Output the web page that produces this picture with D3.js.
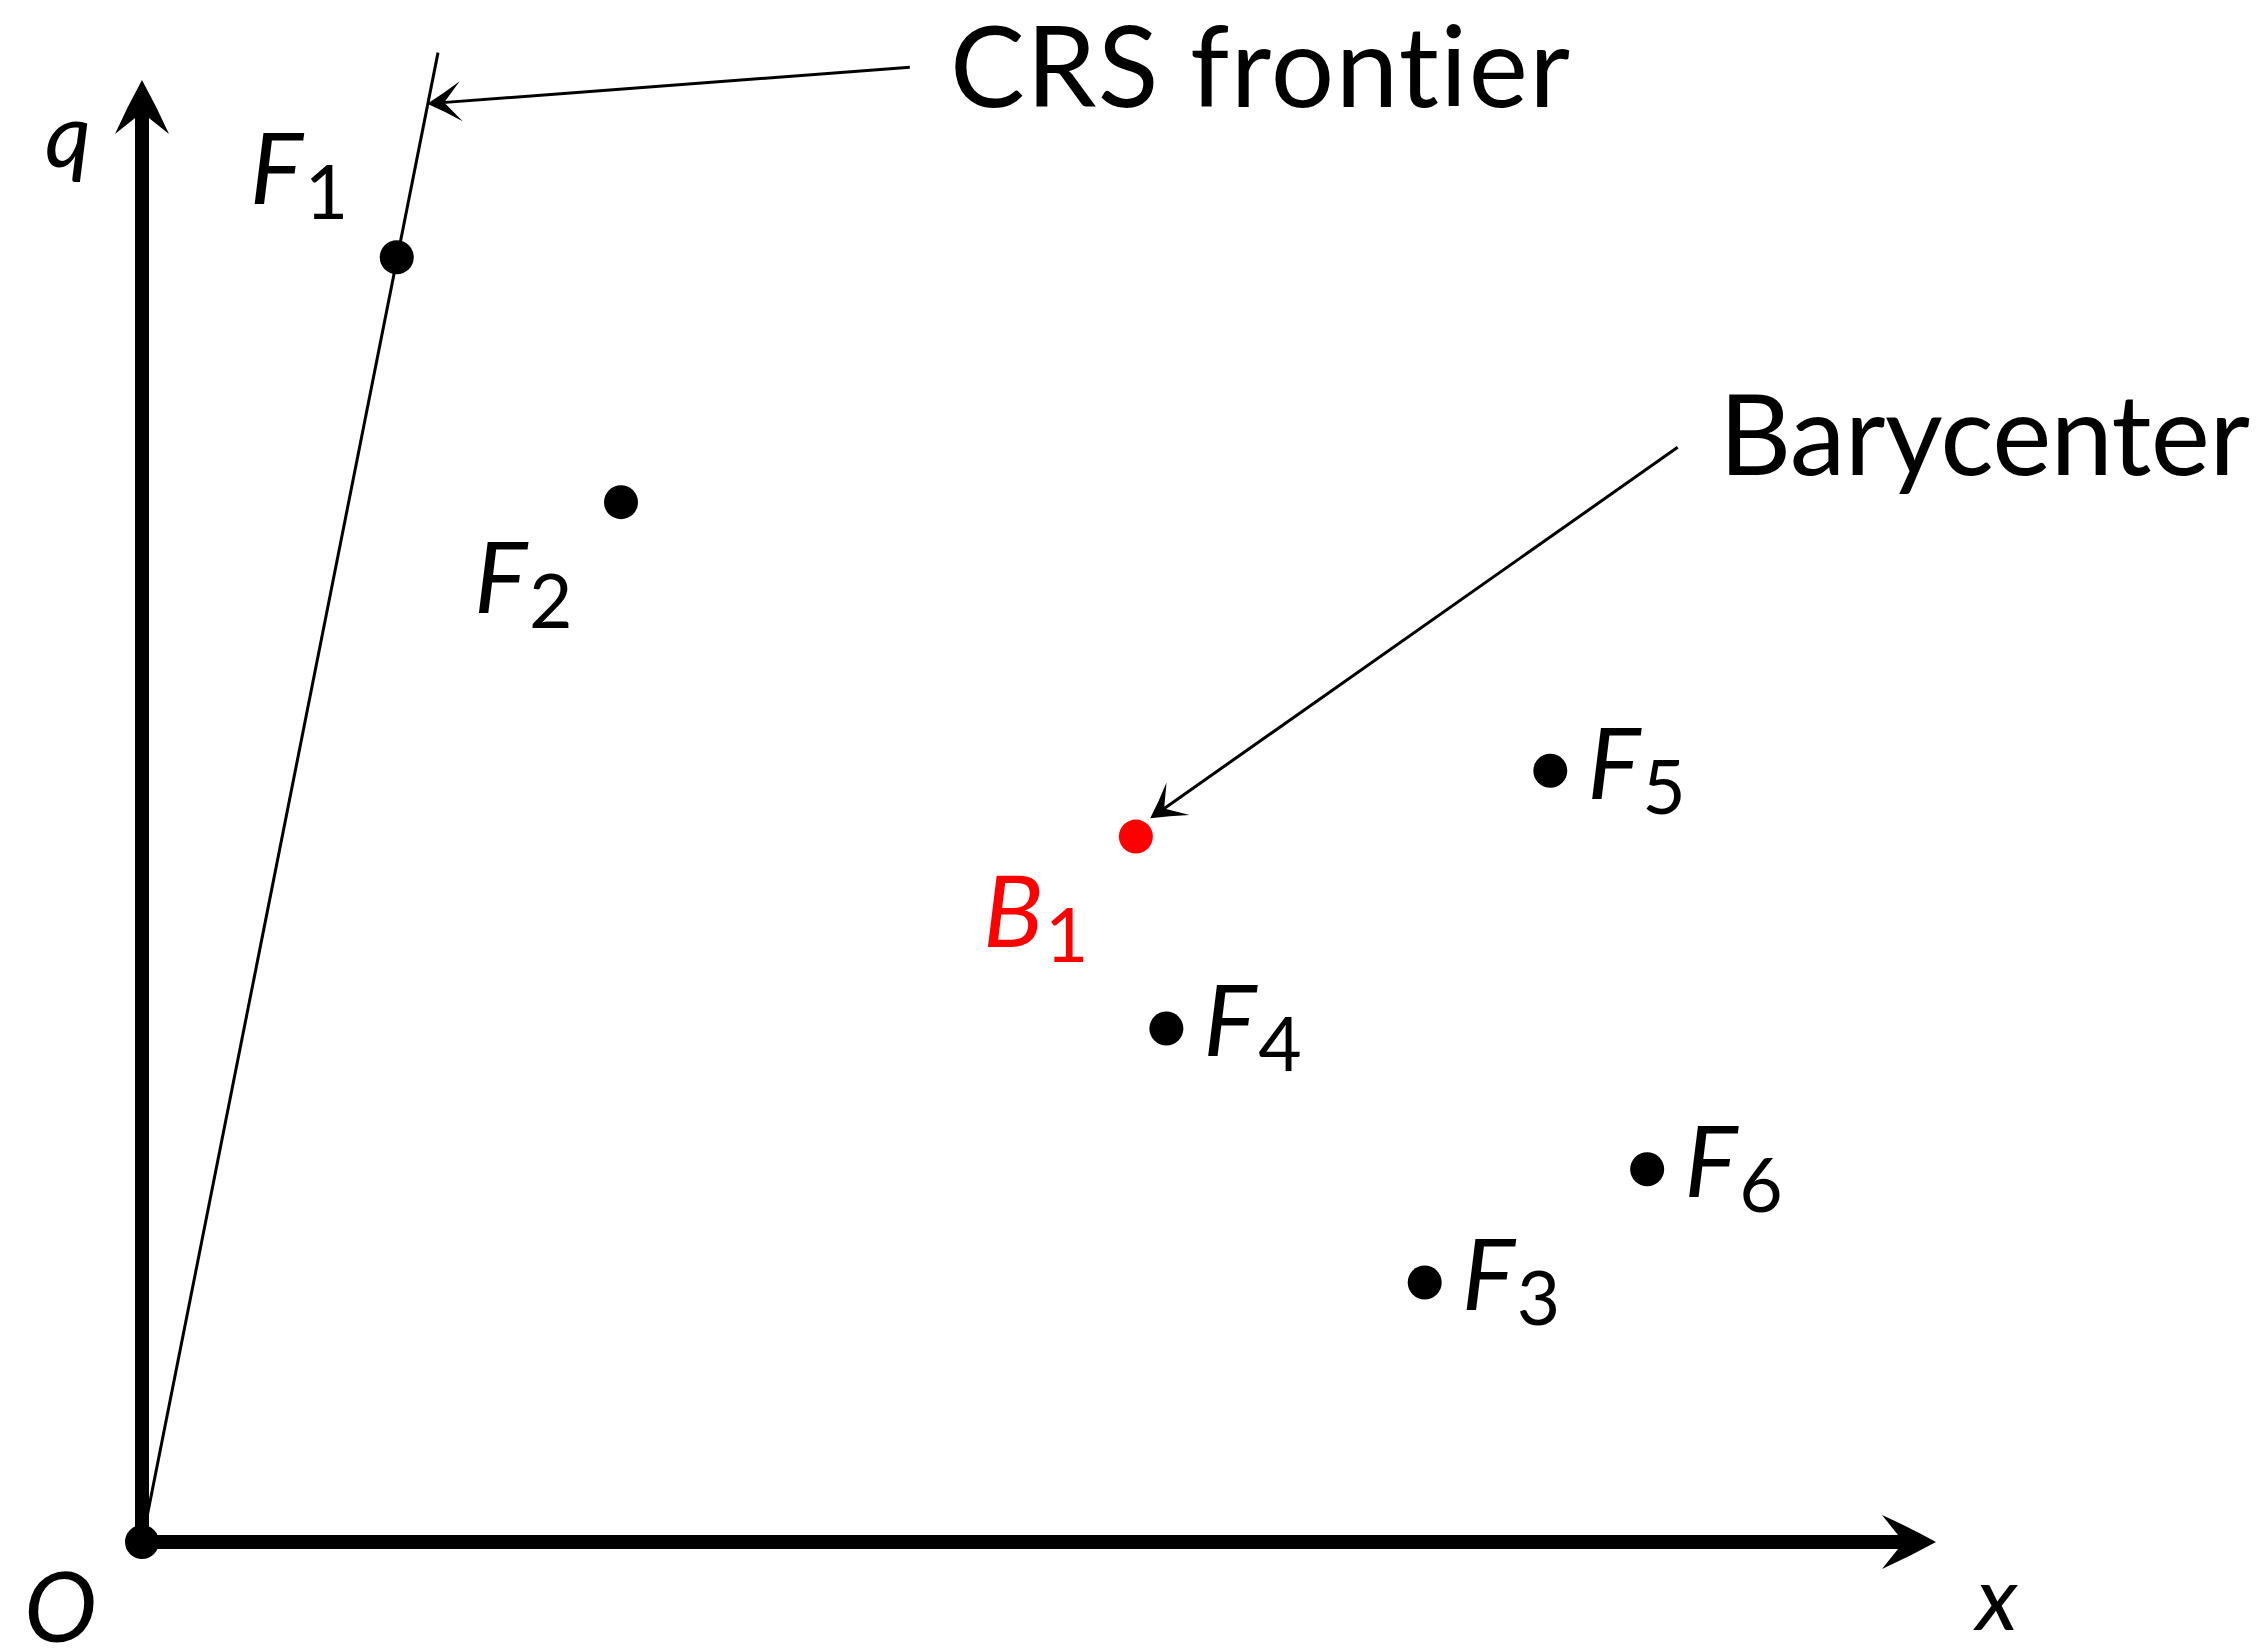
<!DOCTYPE html>
<html>
<head>
<meta charset="utf-8">
<script src="https://cdnjs.cloudflare.com/ajax/libs/d3/7.8.5/d3.min.js"></script>
<style>
  html, body { margin: 0; padding: 0; background: #fff; }
  svg { display: block; }
  text { font-family: "Lato", "Liberation Sans", sans-serif; font-variant-ligatures: none; font-feature-settings: "liga" 0, "clig" 0; }
</style>
</head>
<body>
<svg id="chart" width="2265" height="1651"></svg>
<script>
// firms (F_i), axis units x: 0..10, q: 0..8
const firmIds = ["1", "2", "3", "4", "5", "6"];
const firmX = [1.42, 2.67, 7.15, 5.71, 7.85, 8.39];
const firmQ = [7.03, 5.69, 1.42, 2.81, 4.22, 2.04];
const firmSide = ["aboveLeft", "belowLeft", "right", "right", "right", "right"];

// barycenter
const baryIds = ["1"];
const baryX = [5.54];
const baryQ = [3.86];

// CRS frontier ray, from the origin through F1
const frontierX = [0, 1.65];
const frontierQ = [0, 8.15];

// annotations: text, arrow start, arrow tip
const noteText = ["CRS frontier", "Barycenter"];
const noteFrom = [[4.28, 8.07], [8.56, 5.99]];
const noteTo = [[1.59, 7.87], [5.62, 3.96]];

var svg = d3.select("#chart"),
	width = 2265,
	height = 1651;

var x = d3.scaleLinear().domain([0, 10]).range([142, 1936]);
var y = d3.scaleLinear().domain([0, 8]).range([1542, 80]);

var g = svg.append("g");

// filled arrow head with concave sides
function arrowHead(tip, from, len, half, notch, curve){
	var dx = tip[0] - from[0], dy = tip[1] - from[1];
	var L = Math.hypot(dx, dy), ux = dx / L, uy = dy / L;
	var px = -uy, py = ux;
	var bx = tip[0] - ux * len, by = tip[1] - uy * len;
	var b1 = [bx + px * half, by + py * half];
	var b2 = [bx - px * half, by - py * half];
	var n = [tip[0] - ux * len * notch, tip[1] - uy * len * notch];
	var c1 = [tip[0] - ux * len * 0.5 + px * half * curve, tip[1] - uy * len * 0.5 + py * half * curve];
	var c2 = [tip[0] - ux * len * 0.5 - px * half * curve, tip[1] - uy * len * 0.5 - py * half * curve];
	var p = d3.path();
	p.moveTo(tip[0], tip[1]);
	p.quadraticCurveTo(c1[0], c1[1], b1[0], b1[1]);
	p.lineTo(n[0], n[1]);
	p.lineTo(b2[0], b2[1]);
	p.quadraticCurveTo(c2[0], c2[1], tip[0], tip[1]);
	p.closePath();
	return p.toString();
}

//----------------------------- axes -----------------------------
var o = [x(0), y(0)];
var xTip = [x(10), y(0)];
var qTip = [x(0), y(8)];

g.append("line")
	.attr("x1", o[0]).attr("y1", o[1])
	.attr("x2", xTip[0] - 30).attr("y2", xTip[1])
	.attr("stroke", "#000").attr("stroke-width", 14);
g.append("line")
	.attr("x1", o[0]).attr("y1", o[1] + 7)
	.attr("x2", qTip[0]).attr("y2", qTip[1] + 30)
	.attr("stroke", "#000").attr("stroke-width", 14);

g.append("path").attr("d", arrowHead(xTip, o, 54, 27, 0.6, 0.55)).attr("fill", "#000");
g.append("path").attr("d", arrowHead(qTip, o, 54, 27, 0.6, 0.55)).attr("fill", "#000");

// CRS frontier
var frontier = d3.line()
	.x(function(d, i){ return x(frontierX[i]); })
	.y(function(d, i){ return y(frontierQ[i]); });
g.append("path")
	.datum(frontierX)
	.attr("d", frontier)
	.attr("fill", "none")
	.attr("stroke", "#000")
	.attr("stroke-width", 3);

// origin dot
g.append("circle").attr("cx", o[0]).attr("cy", o[1]).attr("r", 17).attr("fill", "#000");

// axis labels
g.append("text").attr("x", qTip[0] - 97).attr("y", qTip[1] + 87)
	.attr("font-size", 90).attr("font-style", "italic").text("q");
g.append("text").attr("x", o[0] - 118).attr("y", o[1] + 100)
	.attr("font-size", 98).attr("font-style", "italic").text("O");
g.append("text").attr("x", xTip[0] + 40).attr("y", xTip[1] + 88)
	.attr("font-size", 90).attr("font-style", "italic").text("x");

//----------------------------- points -----------------------------
var offsets = {
	right: [37, 28],
	aboveLeft: [-147, -53],
	belowLeft: [-147, 111]
};

function subLabel(sel, name, id, px, py, color){
	var t = sel.append("text")
		.attr("x", px).attr("y", py)
		.attr("fill", color)
		.attr("font-size", 100);
	t.append("tspan").attr("font-style", "italic").text(name);
	t.append("tspan").attr("font-size", 75).attr("dy", 15).attr("dx", 2).text(id);
}

firmIds.forEach(function(id, i){
	var cx = x(firmX[i]), cy = y(firmQ[i]);
	g.append("circle").attr("cx", cx).attr("cy", cy).attr("r", 17).attr("fill", "#000");
	var off = offsets[firmSide[i]];
	subLabel(g, "F", id, cx + off[0], cy + off[1], "#000");
});

baryIds.forEach(function(id, i){
	var cx = x(baryX[i]), cy = y(baryQ[i]);
	g.append("circle").attr("cx", cx).attr("cy", cy).attr("r", 17).attr("fill", "#ff0000");
	subLabel(g, "B", id, cx - 153, cy + 110, "#ff0000");
});

//----------------------------- annotations -----------------------------
var noteBox = [[950, 107, 620], [1719, 475, 531]];

noteText.forEach(function(txt, i){
	var a = [x(noteFrom[i][0]), y(noteFrom[i][1])];
	var b = [x(noteTo[i][0]), y(noteTo[i][1])];
	var L = Math.hypot(b[0] - a[0], b[1] - a[1]);
	var k = (L - 15) / L;
	g.append("line")
		.attr("x1", a[0]).attr("y1", a[1])
		.attr("x2", a[0] + (b[0] - a[0]) * k).attr("y2", a[1] + (b[1] - a[1]) * k)
		.attr("stroke", "#000").attr("stroke-width", 3);
	g.append("path").attr("d", arrowHead(b, a, 34, 20, 0.5, 0.45)).attr("fill", "#000");
	g.append("text")
		.attr("x", noteBox[i][0]).attr("y", noteBox[i][1])
		.attr("font-size", 112)
		.attr("textLength", noteBox[i][2])
		.text(txt);
});
</script>
</body>
</html>
